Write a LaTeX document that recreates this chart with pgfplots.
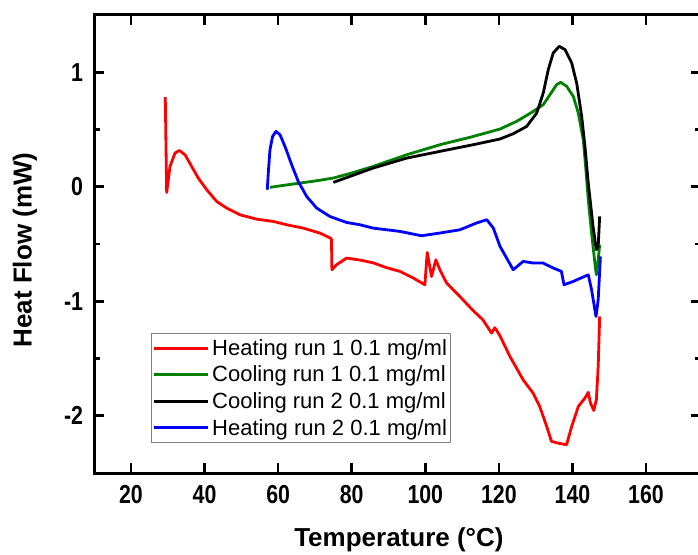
\documentclass[border=0pt]{standalone}
\usepackage{fontspec}
\setmainfont{Liberation Sans}
\newfontfamily\tickfont[FakeStretch=0.82]{Liberation Sans}
\usepackage{pgfplots}
\pgfplotsset{compat=1.18}
\definecolor{cred}{RGB}{255,0,0}
\definecolor{cgreen}{RGB}{0,128,0}
\definecolor{cblue}{RGB}{0,0,255}
\begin{document}
\begin{tikzpicture}
\begin{axis}[
  at={(94.2pt,81pt)}, anchor=south west,
  scale only axis, width=607pt, height=458pt,
  xmin=10, xmax=175, ymin=-2.5, ymax=1.5,
  xtick={20,40,...,160},
  ytick={-2,-1,0,1}, yticklabels={-2,-1,0,1},
  minor ytick={-1.5,-0.5,0.5},
  tick align=inside,
  major tick length=10pt, minor tick length=6pt,
  every tick/.style={line width=2.6pt, black},
  axis line style={line width=3pt},
  /pgf/number format/assume math mode=true,
  tick label style={font=\tickfont\bfseries\fontsize{26}{26}\selectfont},
  xticklabel style={inner sep=0pt, yshift=-12pt},
  yticklabel style={inner sep=0pt, xshift=-11pt},
  xlabel={Temperature (°C)}, ylabel={Heat Flow (mW)},
  label style={font=\bfseries\fontsize{26}{26}\selectfont},
  xlabel style={at={(axis description cs:0.502,-0.161)}, anchor=base},
  ylabel style={at={(axis description cs:-0.114,0.487)}, anchor=center},
  legend style={at={(0.093,0.066)}, anchor=south west, draw=gray, line width=1pt,
    font=\fontsize{22}{22}\selectfont, inner sep=1pt,
    nodes={inner xsep=3pt, inner ysep=4.6pt, anchor=west}, row sep=0pt},
  legend cell align=left,
  legend image code/.code={\draw[#1, line width=3pt] (-3pt,0pt) -- (51pt,0pt);},
  every axis plot/.append style={line width=2.8pt, line join=round},
]
\addplot[cred] coordinates {
(29.32,0.783) (29.70,-0.050) (30.60,0.177) (31.96,0.294) (33.13,0.317)
(34.68,0.280) (36.50,0.177) (38.29,0.076) (40.58,-0.026) (43.29,-0.128)
(46.01,-0.186) (49.63,-0.245) (54.17,-0.283) (58.68,-0.303) (62.32,-0.332)
(66.83,-0.361) (71.37,-0.405) (74.28,-0.449) (74.5,-0.46)
(74.62,-0.725) (75.90,-0.681) (78.61,-0.623) (82.23,-0.640) (85.76,-0.664)
(89.48,-0.707) (93.10,-0.739) (96.63,-0.795) (99.89,-0.856) (100.52,-0.574)
(101.71,-0.783) (102.88,-0.638) (103.97,-0.725) (105.79,-0.841) (109.40,-0.959)
(112.93,-1.079) (115.65,-1.162) (118.02,-1.278) (118.91,-1.231) (120.27,-1.300)
(123.0,-1.482) (126.6,-1.686) (129.3,-1.802) (131.1,-1.919) (133.0,-2.093)
(134.3,-2.224) (136.1,-2.239) (138.4,-2.253) (139.8,-2.093) (141.6,-1.919)
(143.4,-1.845) (144.3,-1.796) (144.9,-1.889) (145.8,-1.954) (146.5,-1.860)
(147.0,-1.569) (147.4,-1.133)
};
\addlegendentry{Heating run 1 0.1 mg/ml}
\addplot[cgreen] coordinates {
(57.8,-0.005) (61.5,0.012) (65.9,0.032) (70.0,0.050) (75.0,0.076) (80.0,0.120)
(85.8,0.177) (94.9,0.279) (104.0,0.367) (113.0,0.439) (120.3,0.504)
(124.84,0.571) (129.35,0.658) (132.07,0.717) (133.89,0.804) (135.71,0.892)
(136.80,0.912) (138.43,0.877) (140.23,0.789) (141.59,0.644) (142.95,0.411)
(143.6,0.170) (144.3,-0.114) (145.2,-0.404) (146.1,-0.666)
(146.5,-0.769) (147.0,-0.638) (147.4,-0.507)
};
\addlegendentry{Cooling run 1 0.1 mg/ml}
\addplot[black] coordinates {
(75.0,0.038) (85.8,0.163) (94.9,0.250) (104.0,0.309) (113.0,0.367)
(120.3,0.417) (123.9,0.463) (127.56,0.527) (130.28,0.644) (132.07,0.819)
(133.43,1.023) (134.79,1.169) (136.42,1.226) (137.97,1.198) (139.79,1.081)
(141.15,0.906) (142.51,0.615) (143.40,0.352) (144.3,0.032) (145.6,-0.347)
(146.5,-0.550) (147.0,-0.521) (147.4,-0.259)
};
\addlegendentry{Cooling run 2 0.1 mg/ml}
\addplot[cblue] coordinates {
(57.05,-0.026) (57.32,0.120) (57.78,0.323) (58.5,0.44) (59.41,0.483)
(60.50,0.455) (61.86,0.352) (63.68,0.192) (65.47,0.046) (67.76,-0.085)
(70.47,-0.186) (74.09,-0.260) (78.63,-0.312) (82.24,-0.332)
(85.8,-0.361) (93.1,-0.390) (99.0,-0.428) (104.0,-0.404) (109.4,-0.376)
(113.9,-0.317) (116.7,-0.288) (118.5,-0.361) (120.3,-0.520) (123.9,-0.725)
(126.6,-0.652) (129.3,-0.666) (132.0,-0.666) (134.8,-0.710) (137.0,-0.739)
(137.7,-0.856) (140.2,-0.827) (144.3,-0.769) (145.2,-0.900) (146.4,-1.133)
(147.0,-0.987) (147.6,-0.609)
};
\addlegendentry{Heating run 2 0.1 mg/ml}
\end{axis}
\pgfresetboundingbox
\path (0,0) rectangle (698pt,554pt);
\end{tikzpicture}
\end{document}
